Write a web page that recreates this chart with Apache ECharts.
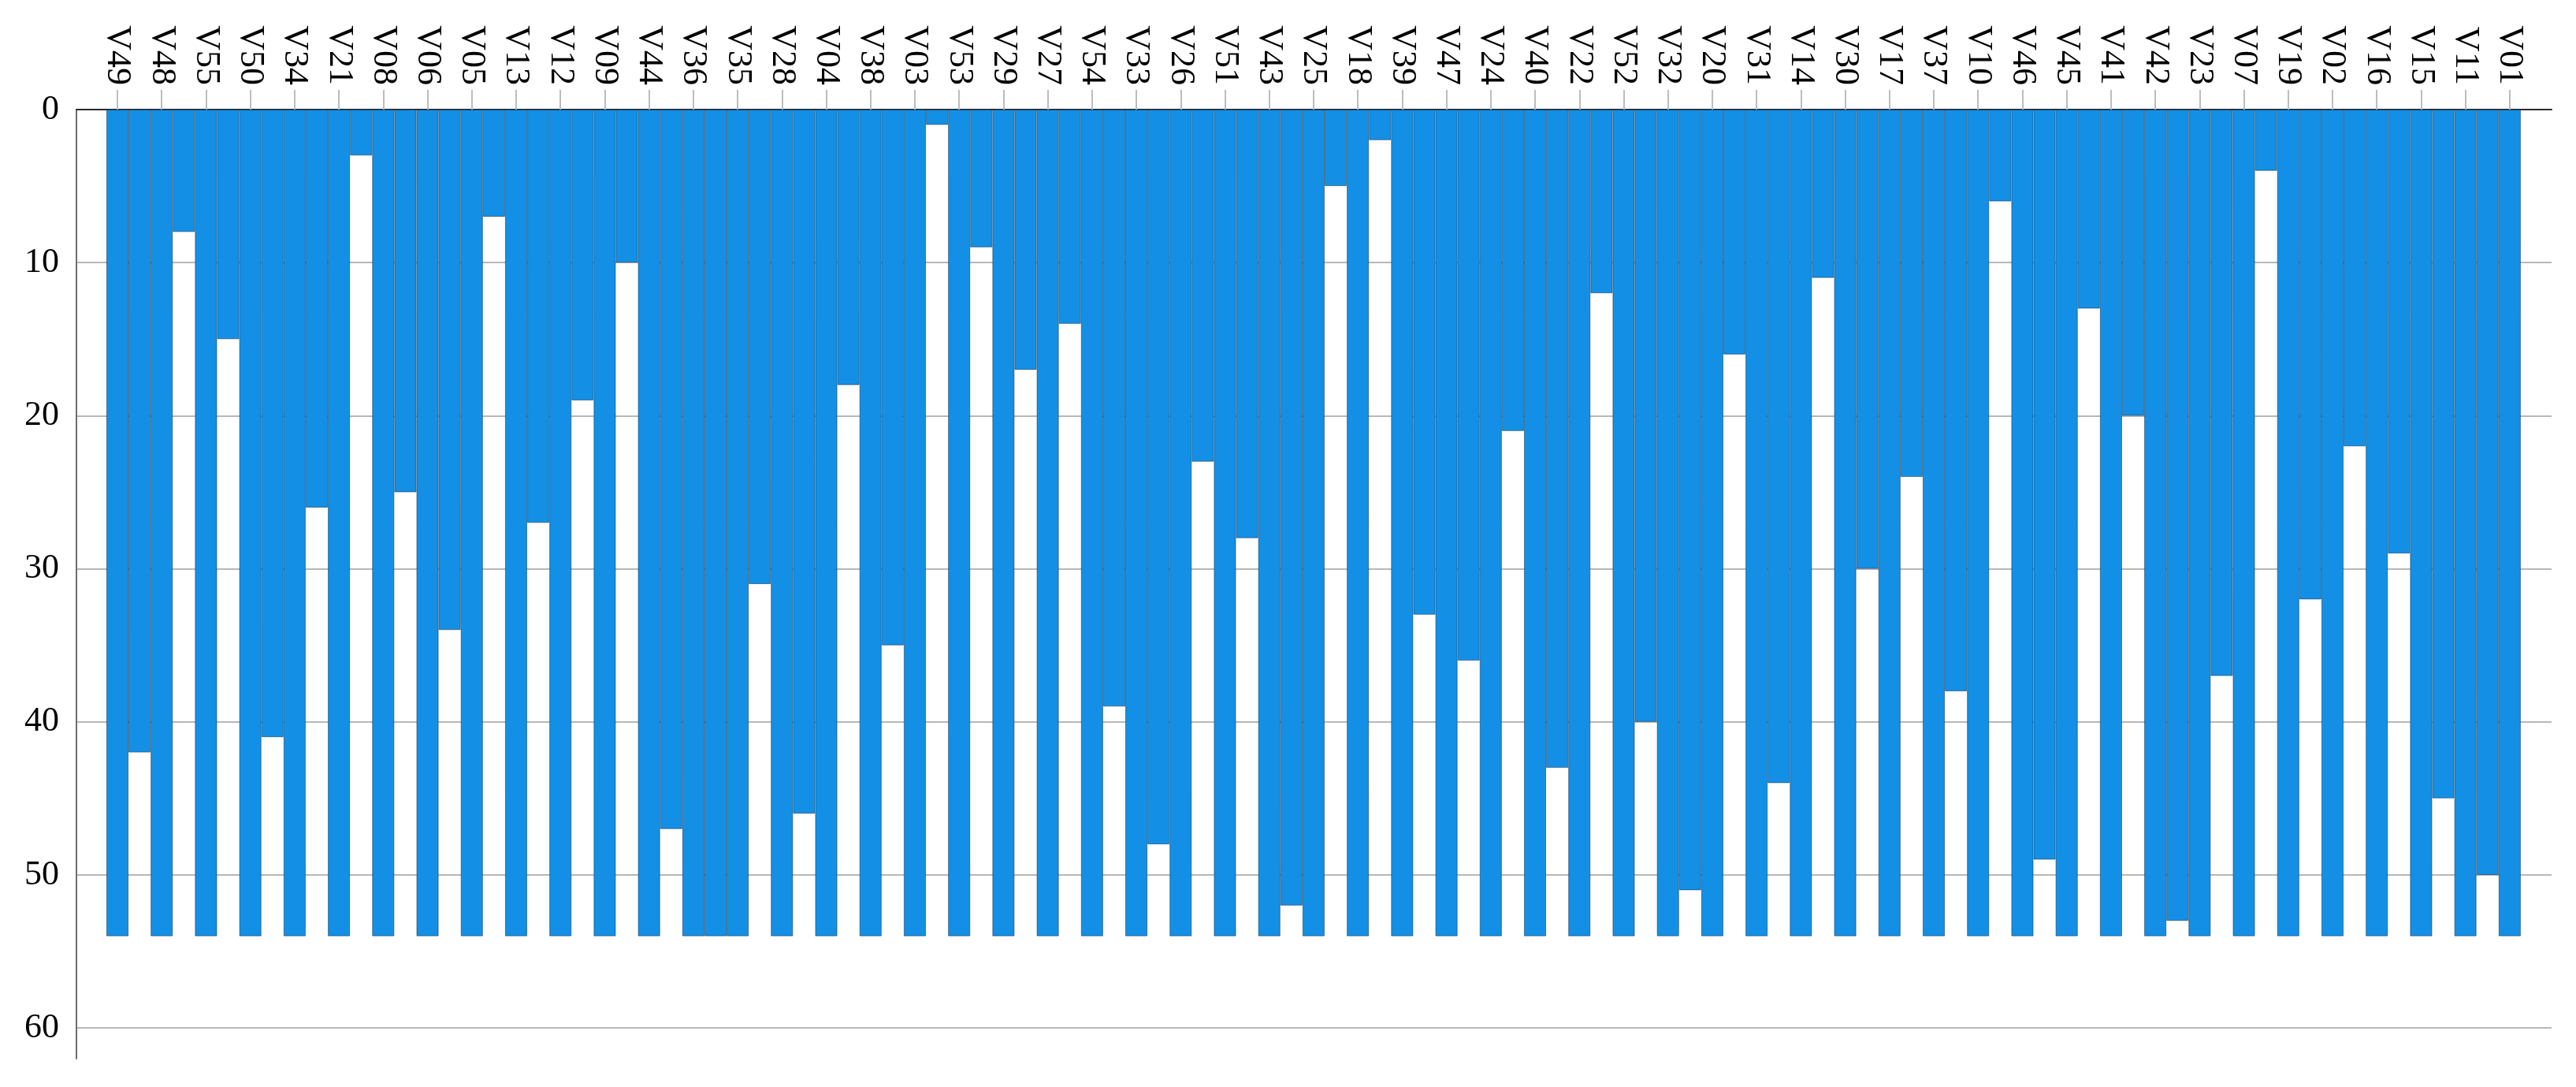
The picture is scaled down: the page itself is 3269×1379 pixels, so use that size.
<!DOCTYPE html>
<html>
<head>
<meta charset="utf-8">
<script src="https://cdn.jsdelivr.net/npm/echarts@6/dist/echarts.min.js"></script>
<style>
  html, body { margin: 0; padding: 0; background: #ffffff; }
  #chart { width: 3269px; height: 1379px; }
</style>
</head>
<body>
<div id="chart"></div>
<script>
// Cases in display order (left to right)
const cases = ['V49','V48','V55','V50','V34','V21','V08','V06','V05','V13','V12','V09','V44','V36','V35','V28','V04','V38','V03','V53','V29','V27','V54','V33','V26','V51','V43','V25','V18','V39','V47','V24','V40','V22','V52','V32','V20','V31','V14','V30','V17','V37','V10','V46','V45','V41','V42','V23','V07','V19','V02','V16','V15','V11','V01'];
// Level down to which each gap between neighbouring cases is filled
const gapLevels = [42,8,15,41,26,3,25,34,7,27,19,10,47,54,31,46,18,35,1,9,17,14,39,48,23,28,52,5,2,33,36,21,43,12,40,51,16,44,11,30,24,38,6,49,13,20,53,37,4,32,22,29,45,50];
// Every case column is filled down to this level
const caseLevel = 54;
// Y axis tick labels
const yTicks = [0, 10, 20, 30, 40, 50, 60];

// Build interleaved columns: case, gap, case, gap, ..., case
const columns = [];
const caseSlots = [];
cases.forEach(function (c, i) {
  caseSlots.push(columns.length);
  columns.push([columns.length, caseLevel]);
  if (i < gapLevels.length) columns.push([columns.length, gapLevels[i]]);
});

const chart = echarts.init(document.getElementById('chart'), null, { renderer: 'canvas' });
const serif = '"Liberation Serif", "DejaVu Serif", serif';

chart.setOption({
  animation: false,
  backgroundColor: '#ffffff',
  grid: { left: 97, right: 31, top: 139, bottom: 36, containLabel: false },
  xAxis: {
    type: 'value',
    position: 'top',
    min: -1.85,
    max: 109.89,
    splitLine: { show: false },
    axisLine: { show: true, onZero: false, lineStyle: { color: '#2b2b2b', width: 2 } },
    axisTick: {
      show: true,
      customValues: caseSlots,
      length: 25,
      inside: false,
      lineStyle: { color: '#bdbdbd', width: 2 }
    },
    axisLabel: {
      show: true,
      customValues: caseSlots,
      rotate: 90,
      margin: 31,
      fontFamily: serif,
      fontSize: 44,
      color: '#000000',
      formatter: function (v) { return cases[caseSlots.indexOf(Math.round(v))] || ''; }
    }
  },
  yAxis: {
    type: 'value',
    inverse: true,
    min: 0,
    max: 62,
    interval: 10,
    axisLine: { show: true, onZero: false, lineStyle: { color: '#6e6e6e', width: 2 } },
    axisTick: { show: false },
    axisLabel: {
      show: true,
      fontFamily: serif,
      fontSize: 44,
      color: '#000000',
      margin: 22,
      showMaxLabel: false,
      formatter: function (v) { return yTicks.indexOf(v) >= 0 ? String(v) : ''; }
    },
    splitLine: {
      show: true,
      showMaxLine: false,
      lineStyle: { color: '#b8b8b8', width: 2 }
    }
  },
  series: [{
    type: 'bar',
    data: columns,
    barWidth: '100%',
    itemStyle: {
      color: '#1390E5',
      borderColor: 'rgba(20,50,80,0.55)',
      borderWidth: 1
    },
    emphasis: { disabled: true },
    z: 2
  }]
});
</script>
</body>
</html>
